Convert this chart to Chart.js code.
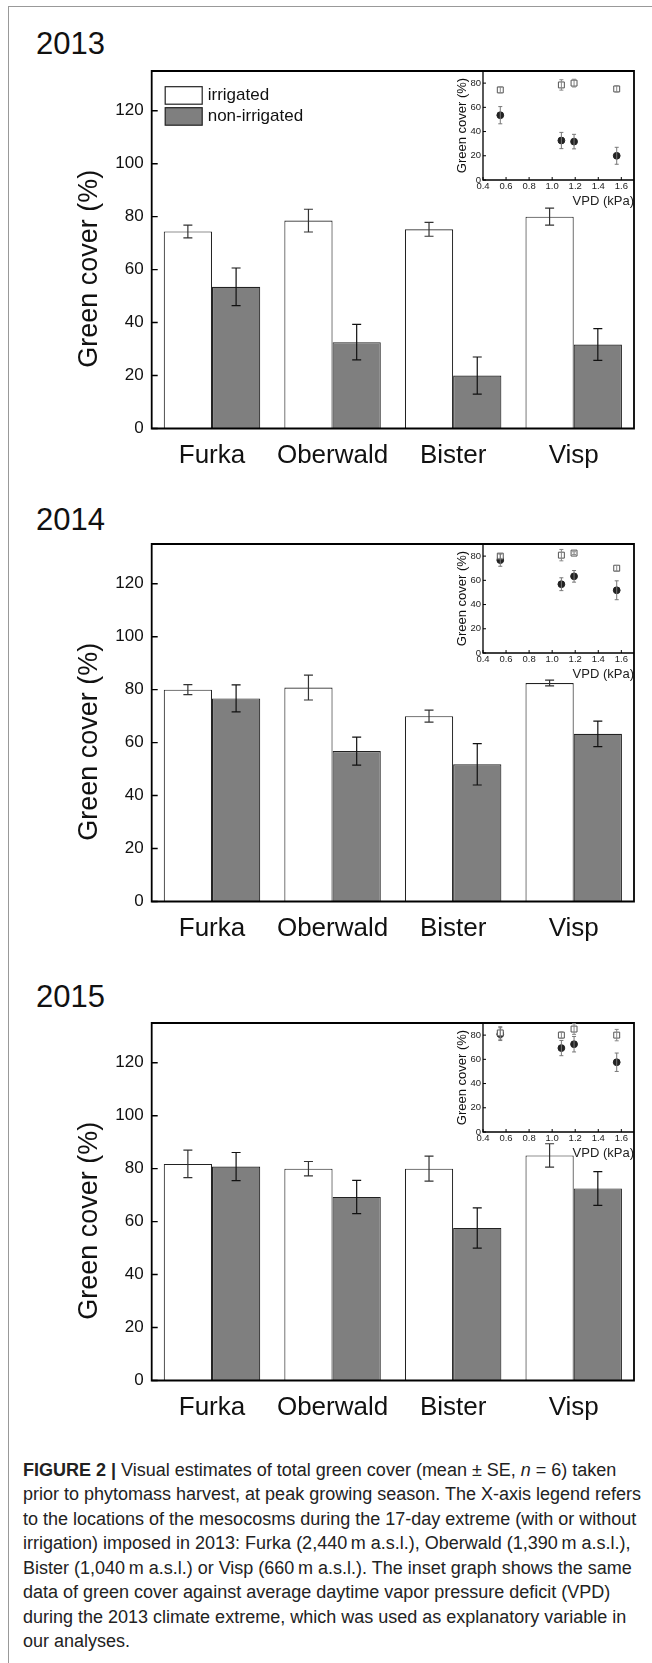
<!DOCTYPE html>
<html>
<head>
<meta charset="utf-8">
<script src="https://cdn.jsdelivr.net/npm/chart.js@4"></script>
<style>
  body { margin: 0; background: #fff; }
  #fig { position: relative; width: 652px; height: 1663px; overflow: hidden; font-family: 'Liberation Sans', Arial, sans-serif; color: #111; }
  #edge { position: absolute; left: 8px; top: 6px; width: 660px; height: 1700px; border-left: 1.5px solid #999; border-top: 1.5px solid #999; }
  .year { position: absolute; left: 36px; font-size: 31px; line-height: 31px; }
  canvas { position: absolute; }
  #caption { position: absolute; left: 23px; top: 1457.5px; font-size: 18px; line-height: 24.5px; white-space: nowrap; color: #222; }
</style>
</head>
<body>
<div id="fig">
  <div id="edge"></div>
  <div id="caption"><b>FIGURE 2 |</b> Visual estimates of total green cover (mean ± SE, <i>n</i> = 6) taken<br>prior to phytomass harvest, at peak growing season. The X-axis legend refers<br>to the locations of the mesocosms during the 17-day extreme (with or without<br>irrigation) imposed in 2013: Furka (2,440&#8201;m a.s.l.), Oberwald (1,390&#8201;m a.s.l.),<br>Bister (1,040&#8201;m a.s.l.) or Visp (660&#8201;m a.s.l.). The inset graph shows the same<br>data of green cover against average daytime vapor pressure deficit (VPD)<br>during the 2013 climate extreme, which was used as explanatory variable in<br>our analyses.</div>
</div>
<script>
// data
var sites = ['Furka', 'Oberwald', 'Bister', 'Visp'];
var vpd = [0.55, 1.08, 1.56, 1.19];   // kPa, x of the inset points

var years = ['2013', '2014', '2015'];
var irr2013 = [74.4, 78.5, 75.2, 80.0];
var irrSe2013 = [2.4, 4.3, 2.6, 3.2];
var non2013 = [53.5, 32.6, 20.0, 31.7];
var nonSe2013 = [7.1, 6.7, 7.0, 6.0];

var irr2014 = [80.0, 80.8, 70.0, 82.5];
var irrSe2014 = [1.9, 4.7, 2.3, 1.1];
var non2014 = [76.7, 56.8, 51.8, 63.3];
var nonSe2014 = [5.1, 5.3, 7.8, 4.8];

var irr2015 = [81.8, 80.0, 80.0, 85.0];
var irrSe2015 = [5.2, 2.7, 4.7, 4.4];
var non2015 = [80.8, 69.3, 57.6, 72.5];
var nonSe2015 = [5.3, 6.3, 7.6, 6.4];

var seriesNames = ['irrigated', 'non-irrigated'];

var panels = [
  { irr: irr2013, irrSe: irrSe2013, non: non2013, nonSe: nonSe2013, legend: true },
  { irr: irr2014, irrSe: irrSe2014, non: non2014, nonSe: nonSe2014, legend: false },
  { irr: irr2015, irrSe: irrSe2015, non: non2015, nonSe: nonSe2015, legend: false }
];

// layout (pixels on the page)
var frameTops = [71, 544, 1023];
var titleTops = [28, 504, 981];

Chart.defaults.font.family = "'Liberation Sans', Arial, sans-serif";
Chart.defaults.color = '#111';

var errorBars = {
  id: 'errorBars',
  afterDatasetsDraw: function (chart, args, o) {
    var ctx = chart.ctx, ys = chart.scales.y;
    chart.data.datasets.forEach(function (ds, i) {
      var meta = chart.getDatasetMeta(i);
      ctx.save();
      ctx.strokeStyle = o.colors[i];
      ctx.lineWidth = o.width;
      meta.data.forEach(function (el, j) {
        var v = typeof ds.data[j] === 'object' ? ds.data[j].y : ds.data[j];
        var t = ys.getPixelForValue(v + ds.se[j]);
        var b = ys.getPixelForValue(v - ds.se[j]);
        ctx.beginPath();
        ctx.moveTo(el.x, t); ctx.lineTo(el.x, b);
        ctx.moveTo(el.x - o.cap, t); ctx.lineTo(el.x + o.cap, t);
        ctx.moveTo(el.x - o.cap, b); ctx.lineTo(el.x + o.cap, b);
        ctx.stroke();
      });
      ctx.restore();
    });
  }
};

var frame = {
  id: 'frame',
  afterDraw: function (chart, args, o) {
    var ctx = chart.ctx, a = chart.chartArea;
    ctx.save();
    ctx.strokeStyle = '#000';
    ctx.lineWidth = o.width;
    ctx.beginPath();
    if (o.box) {
      ctx.rect(a.left, a.top, a.right - a.left, a.bottom - a.top);
    } else {
      ctx.moveTo(a.left, a.top); ctx.lineTo(a.left, a.bottom); ctx.lineTo(a.right, a.bottom);
    }
    ctx.stroke();
    // inward ticks
    ctx.lineWidth = o.tickWidth;
    ctx.beginPath();
    chart.scales.y.ticks.forEach(function (t) {
      var p = chart.scales.y.getPixelForValue(t.value);
      ctx.moveTo(a.left, p); ctx.lineTo(a.left + o.tick, p);
    });
    if (o.xTicks) {
      chart.scales.x.ticks.forEach(function (t) {
        var p = chart.scales.x.getPixelForValue(t.value);
        ctx.moveTo(p, a.bottom); ctx.lineTo(p, a.bottom - o.tick);
      });
    }
    ctx.stroke();
    ctx.restore();
  }
};

var yTitle = {
  id: 'yTitle',
  afterDraw: function (chart, args, o) {
    var ctx = chart.ctx, a = chart.chartArea;
    ctx.save();
    ctx.translate(o.x, (a.top + a.bottom) / 2 + o.dy);
    ctx.rotate(-Math.PI / 2);
    ctx.font = o.size + "px 'Liberation Sans', Arial, sans-serif";
    ctx.fillStyle = '#111';
    ctx.textAlign = 'center';
    ctx.textBaseline = 'middle';
    ctx.fillText(o.text, 0, 0);
    ctx.restore();
  }
};

var boxLegend = {
  id: 'boxLegend',
  afterDraw: function (chart, args, o) {
    if (!o.show) return;
    var ctx = chart.ctx, a = chart.chartArea;
    ctx.save();
    ctx.font = "17px 'Liberation Sans', Arial, sans-serif";
    ctx.textBaseline = 'middle';
    chart.data.datasets.forEach(function (ds, i) {
      var x = a.left + 13.5, y = a.top + 15.7 + i * 21;
      ctx.fillStyle = ds.backgroundColor;
      ctx.fillRect(x, y, 37, 17.5);
      ctx.strokeStyle = '#222';
      ctx.lineWidth = 1.2;
      ctx.strokeRect(x, y, 37, 17.5);
      ctx.fillStyle = '#111';
      ctx.fillText(ds.label, x + 42.5, y + 9);
    });
    ctx.restore();
  }
};

var fig = document.getElementById('fig');

panels.forEach(function (p, k) {
  var top = frameTops[k];

  var yr = document.createElement('div');
  yr.className = 'year';
  yr.style.top = titleTops[k] + 'px';
  yr.textContent = years[k];
  fig.appendChild(yr);

  // main bar chart
  var c = document.createElement('canvas');
  c.width = 652; c.height = 460;
  c.style.left = '0px'; c.style.top = (top - 50) + 'px';
  fig.appendChild(c);

  new Chart(c, {
    type: 'bar',
    data: {
      labels: sites,
      datasets: [
        { label: seriesNames[0], data: p.irr, se: p.irrSe, backgroundColor: '#ffffff', borderColor: '#222', borderWidth: 1.1 },
        { label: seriesNames[1], data: p.non, se: p.nonSe, backgroundColor: '#7f7f7f', borderColor: '#222', borderWidth: 1.1 }
      ]
    },
    options: {
      responsive: false,
      animation: false,
      events: [],
      layout: { padding: { top: 50, right: 18, left: 0, bottom: 0 } },
      datasets: { bar: { categoryPercentage: 0.8, barPercentage: 1.0 } },
      scales: {
        x: {
          grid: { display: false, drawTicks: false },
          border: { display: false },
          ticks: { padding: 12, font: { size: 26 }, color: '#111' },
          afterFit: function (s) { s.height = 52.5; }
        },
        y: {
          min: 0, max: 135,
          grid: { display: false, drawTicks: false },
          border: { display: false },
          ticks: { stepSize: 20, includeBounds: false, padding: 8, font: { size: 17 }, color: '#111' },
          afterFit: function (s) { s.width = 151.7; }
        }
      },
      plugins: {
        legend: { display: false },
        tooltip: { enabled: false },
        errorBars: { colors: ['#333', '#111'], width: 1.2, cap: 4.5 },
        frame: { box: true, width: 1.8, tick: 6, tickWidth: 1.4, xTicks: false },
        yTitle: { text: 'Green cover (%)', size: 27, x: 90, dy: 19 },
        boxLegend: { show: p.legend }
      }
    },
    plugins: [errorBars, frame, yTitle, boxLegend]
  });

  // inset: same data against VPD
  var ic = document.createElement('canvas');
  ic.width = 210; ic.height = 155;
  ic.style.left = '430px'; ic.style.top = (top - 11) + 'px';
  fig.appendChild(ic);

  function pts(vals) {
    return vals.map(function (v, j) { return { x: vpd[j], y: v }; });
  }

  new Chart(ic, {
    type: 'scatter',
    data: {
      datasets: [
        { label: seriesNames[0], data: pts(p.irr), se: p.irrSe, pointStyle: 'rect', pointRadius: 4.2, backgroundColor: '#fff', borderColor: '#555', borderWidth: 1 },
        { label: seriesNames[1], data: pts(p.non), se: p.nonSe, pointStyle: 'circle', pointRadius: 3.4, backgroundColor: '#222', borderColor: '#222', borderWidth: 1 }
      ]
    },
    options: {
      responsive: false,
      animation: false,
      events: [],
      layout: { padding: { top: 11, right: 6, left: 0, bottom: 0 } },
      scales: {
        x: {
          type: 'linear', min: 0.4, max: 1.71,
          grid: { display: false, drawTicks: false },
          border: { display: false },
          ticks: { stepSize: 0.2, includeBounds: false, padding: 1, font: { size: 9.5 }, color: '#222',
                   callback: function (v) { return v.toFixed(1); } },
          title: { display: true, text: 'VPD (kPa)', align: 'end', font: { size: 13 }, color: '#222', padding: { top: 0, bottom: 5.5 } },
          afterFit: function (s) { s.height = 35; }
        },
        y: {
          min: 0, max: 90,
          grid: { display: false, drawTicks: false },
          border: { display: false },
          ticks: { stepSize: 20, includeBounds: false, padding: 2, font: { size: 9.5 }, color: '#222' },
          afterFit: function (s) { s.width = 53; }
        }
      },
      plugins: {
        legend: { display: false },
        tooltip: { enabled: false },
        errorBars: { colors: ['#888', '#777'], width: 1, cap: 2 },
        frame: { box: false, width: 1.3, tick: 3, tickWidth: 1, xTicks: true },
        yTitle: { text: 'Green cover (%)', size: 13, x: 32, dy: 0 }
      }
    },
    plugins: [errorBars, frame, yTitle]
  });
});
</script>
</body>
</html>
